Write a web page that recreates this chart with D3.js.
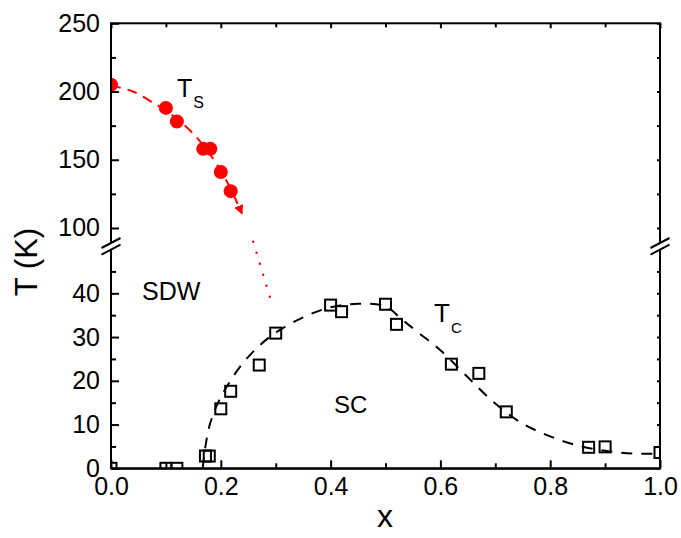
<!DOCTYPE html>
<html>
<head>
<meta charset="utf-8">
<script src="https://cdn.jsdelivr.net/npm/d3@7/dist/d3.min.js"></script>
<style>
  body { margin: 0; background: #fff; }
  svg { display: block; font-family: 'Liberation Sans', Arial, sans-serif; }
</style>
</head>
<body>
<svg id="chart" width="681" height="538"></svg>
<script>
// ---- data ----
const X_TICKS = [0, 0.2, 0.4, 0.6, 0.8, 1.0];
const X_MINOR = [0.1, 0.3, 0.5, 0.7, 0.9];
const UPPER_TICKS = [100, 150, 200, 250];
const UPPER_MINOR = [125, 175, 225];
const LOWER_TICKS = [0, 10, 20, 30, 40];
const LOWER_MINOR = [5, 15, 25, 35, 45];

// structural transition Ts (red filled circles, upper panel)
const tsX = [0, 0.1, 0.12, 0.168, 0.181, 0.2, 0.218];
const tsT = [205, 188, 178, 158, 158, 141, 127];
// guide line for Ts (dashed, ends with arrow)
const tsFitX = [0, 0.04, 0.08, 0.1, 0.12, 0.15, 0.175, 0.2, 0.22, 0.238];
const tsFitT = [204.5, 200, 191, 186, 180, 169, 157, 142, 127, 111];
// dotted continuation (lower panel)
const tsDotX = [0.259, 0.29];
const tsDotT = [51.8, 38.9];

// superconducting Tc (open squares, lower panel)
const tcX = [0, 0.1, 0.12, 0.172, 0.179, 0.2, 0.218, 0.27, 0.3, 0.4, 0.42, 0.5, 0.52, 0.62, 0.67, 0.72, 0.87, 0.9, 1.0];
const tcT = [0, 0, 0, 2.8, 2.8, 13.6, 17.6, 23.6, 30.9, 37.3, 35.8, 37.5, 32.9, 23.8, 21.7, 12.9, 4.8, 4.9, 3.6];
// guide line for Tc dome
const tcFitX = [0.167, 0.172, 0.18, 0.195, 0.215, 0.24, 0.27, 0.3, 0.35, 0.4, 0.45, 0.5, 0.53, 0.56, 0.6, 0.65, 0.7, 0.75, 0.8, 0.85, 0.9, 0.95, 1.0];
const tcFitT = [0, 5, 10, 15, 19.5, 24, 28, 31, 34.5, 36.8, 37.6, 37, 34, 31, 27, 20.8, 14.8, 10.2, 7.3, 5.2, 4, 3.4, 3.3];

// ---- layout ----
const L = 111, R = 660, T = 23.3, B = 468.3;
const svg = d3.select("#chart");
const FONT = "'Liberation Sans', Arial, sans-serif";

const x = d3.scaleLinear().domain([0, 1]).range([L, R]);
const yU = d3.scaleLinear().domain([89, 250]).range([243, T]);
const yL = d3.scaleLinear().domain([0, 50]).range([B, B - 50 * 4.375]);

const defs = svg.append("defs");
defs.append("clipPath").attr("id", "clipU").append("rect")
  .attr("x", L).attr("y", T).attr("width", R - L).attr("height", 243 - T);
defs.append("clipPath").attr("id", "clipL").append("rect")
  .attr("x", L).attr("y", yL(50)).attr("width", R - L).attr("height", B - yL(50));
defs.append("marker").attr("id", "arrow").attr("viewBox", "0 0 10 10")
  .attr("refX", 8).attr("refY", 5).attr("markerWidth", 4.8).attr("markerHeight", 4.8)
  .attr("markerUnits", "strokeWidth").attr("orient", "auto")
  .append("path").attr("d", "M0,0 L10,5 L0,10 Z").attr("fill", "#ff0000");

// ---- curves ----
const lineU = d3.line().x(d => x(d[0])).y(d => yU(d[1])).curve(d3.curveCatmullRom);
const lineL = d3.line().x(d => x(d[0])).y(d => yL(d[1])).curve(d3.curveCatmullRom);

svg.append("path")
  .attr("d", lineU(tsFitX.map((v, i) => [v, tsFitT[i]])))
  .attr("fill", "none").attr("stroke", "#ff0000").attr("stroke-width", 2)
  .attr("stroke-dasharray", "10,7").attr("marker-end", "url(#arrow)");

svg.append("path")
  .attr("d", d3.line().x(d => x(d[0])).y(d => yL(d[1]))(tsDotX.map((v, i) => [v, tsDotT[i]])))
  .attr("fill", "none").attr("stroke", "#ff0000").attr("stroke-width", 2.4)
  .attr("stroke-linecap", "round").attr("stroke-dasharray", "0,11.5");

svg.append("path").attr("clip-path", "url(#clipL)")
  .attr("d", lineL(tcFitX.map((v, i) => [v, tcFitT[i]])))
  .attr("fill", "none").attr("stroke", "#000").attr("stroke-width", 2)
  .attr("stroke-dasharray", "11,9");

// ---- markers ----
svg.append("g").attr("clip-path", "url(#clipU)")
  .selectAll("circle").data(tsX).join("circle")
  .attr("cx", d => x(d)).attr("cy", (d, i) => yU(tsT[i])).attr("r", 7)
  .attr("fill", "#ff0000");

const S = 11;
svg.append("g").attr("clip-path", "url(#clipL)")
  .selectAll("rect").data(tcX).join("rect")
  .attr("x", d => x(d) - S / 2).attr("y", (d, i) => yL(tcT[i]) - S / 2)
  .attr("width", S).attr("height", S)
  .attr("fill", "none").attr("stroke", "#000").attr("stroke-width", 2);

// ---- axes ----
function styleAxis(g, fs) {
  g.selectAll("path.domain").attr("stroke", "#000").attr("stroke-width", 2);
  g.selectAll(".tick line").attr("stroke", "#000").attr("stroke-width", 2);
  g.selectAll("text").attr("font-family", FONT).attr("font-size", fs).attr("fill", "#000");
}
// frame
svg.append("rect").attr("x", L).attr("y", T).attr("width", R - L).attr("height", B - T)
  .attr("fill", "none").attr("stroke", "#000").attr("stroke-width", 2);

// bottom
svg.append("g").attr("transform", `translate(0,${B})`)
  .call(d3.axisBottom(x).tickValues(X_TICKS).tickSize(-8).tickSizeOuter(0).tickPadding(9).tickFormat(d3.format(".1f")))
  .call(g => styleAxis(g, 25));
svg.append("g").attr("transform", `translate(0,${B})`)
  .call(d3.axisBottom(x).tickValues(X_MINOR).tickSize(-5).tickSizeOuter(0).tickFormat(""))
  .call(g => { styleAxis(g, 25); g.select(".domain").remove(); });
// top
svg.append("g").attr("transform", `translate(0,${T})`)
  .call(d3.axisTop(x).tickValues(X_TICKS).tickSize(-5).tickSizeOuter(0).tickFormat(""))
  .call(g => { styleAxis(g, 25); g.select(".domain").remove(); });
svg.append("g").attr("transform", `translate(0,${T})`)
  .call(d3.axisTop(x).tickValues(X_MINOR).tickSize(-4).tickSizeOuter(0).tickFormat(""))
  .call(g => { styleAxis(g, 25); g.select(".domain").remove(); });

// left upper / lower
[[yU, UPPER_TICKS, UPPER_MINOR], [yL, LOWER_TICKS, LOWER_MINOR]].forEach(([sc, maj, mnr]) => {
  svg.append("g").attr("transform", `translate(${L},0)`)
    .call(d3.axisLeft(sc).tickValues(maj).tickSize(-8).tickSizeOuter(0).tickPadding(11))
    .call(g => { styleAxis(g, 25); g.select(".domain").remove(); });
  svg.append("g").attr("transform", `translate(${L},0)`)
    .call(d3.axisLeft(sc).tickValues(mnr).tickSize(-5).tickSizeOuter(0).tickFormat(""))
    .call(g => { styleAxis(g, 25); g.select(".domain").remove(); });
  svg.append("g").attr("transform", `translate(${R},0)`)
    .call(d3.axisRight(sc).tickValues(maj.concat(mnr)).tickSize(-3).tickSizeOuter(0).tickFormat(""))
    .call(g => { styleAxis(g, 25); g.select(".domain").remove(); });
});

// axis breaks
[L, R].forEach(ax => {
  const y1 = 243, y2 = yL(50);
  svg.append("polygon")
    .attr("points", `${ax - 9},${y1 + 4.5} ${ax + 9},${y1 - 4.5} ${ax + 9},${y2 - 4.5} ${ax - 9},${y2 + 4.5}`)
    .attr("fill", "#fff");
  [y1, y2].forEach(yy => {
    svg.append("line").attr("x1", ax - 9.5).attr("y1", yy + 5).attr("x2", ax + 9.5).attr("y2", yy - 5)
      .attr("stroke", "#000").attr("stroke-width", 2);
  });
});

// ---- labels ----
svg.append("text").attr("x", 385).attr("y", 527).attr("text-anchor", "middle")
  .attr("font-family", FONT).attr("font-size", 32).text("x");
svg.append("text").attr("transform", "translate(37,262) rotate(-90)").attr("text-anchor", "middle")
  .attr("font-family", FONT).attr("font-size", 31).text("T (K)");

function label(xp, yp, main, sub, fs, sfs, dx) {
  const t = svg.append("text").attr("x", xp).attr("y", yp)
    .attr("font-family", FONT).attr("font-size", fs);
  t.append("tspan").text(main);
  if (sub) t.append("tspan").attr("font-size", sfs).attr("dx", dx).attr("dy", sfs * 0.7).text(sub);
}
label(177, 97, "T", "S", 25, 16, 1);
label(434, 322, "T", "C", 26, 15, 1);
label(142, 300, "SDW", null, 25);
label(334, 413, "SC", null, 24);
</script>
</body>
</html>
